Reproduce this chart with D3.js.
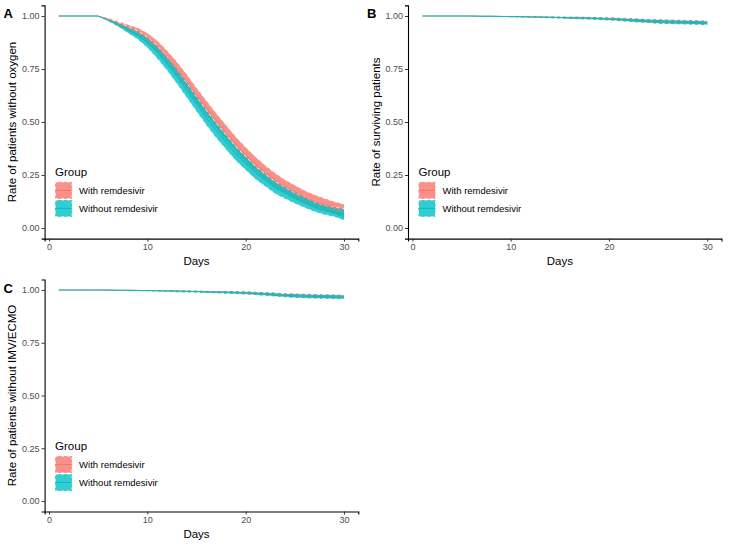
<!DOCTYPE html>
<meta charset="utf-8">
<head>
  <style>
    body { margin:0; background:#fff; }
    text { font-family: "Liberation Sans", Arial, sans-serif; }
  </style>
  <script src="https://d3js.org/d3.v7.min.js"></script>
</head>
<body>
<svg width="729" height="547"></svg>
<script>
var days = d3.range(1, 31)

// panel A - without oxygen
var oxyWithMean = [1,1,1,1,1, 0.985,0.965,0.945,0.925,0.895, 0.855,0.805,0.75,0.69,0.625, 0.565,0.505,0.45,0.395,0.345, 0.30,0.26,0.225,0.195,0.17, 0.145,0.125,0.11,0.095,0.08]
var oxyWithHigh = [1,1,1,1,1, 0.99,0.975,0.96,0.945,0.92, 0.885,0.837,0.784,0.725,0.661, 0.601,0.541,0.486,0.431,0.381, 0.336,0.295,0.259,0.228,0.202, 0.177,0.157,0.14,0.125,0.112]
var oxyWithLow  = [1,1,1,1,1, 0.98,0.955,0.93,0.905,0.87, 0.825,0.773,0.716,0.655,0.589, 0.529,0.469,0.414,0.359,0.309, 0.264,0.225,0.191,0.162,0.138, 0.113,0.093,0.08,0.065,0.05]
var oxyWithoutMean = [1,1,1,1,1, 0.98,0.96,0.935,0.91,0.875, 0.83,0.775,0.715,0.65,0.585, 0.52,0.46,0.405,0.35,0.305, 0.26,0.225,0.19,0.165,0.14, 0.12,0.10,0.085,0.075,0.063]
var oxyWithoutHigh = [1,1,1,1,1, 0.985,0.97,0.95,0.93,0.90, 0.86,0.807,0.749,0.685,0.62, 0.555,0.495,0.44,0.383,0.337, 0.29,0.254,0.218,0.192,0.165, 0.145,0.123,0.107,0.097,0.092]
var oxyWithoutLow  = [1,1,1,1,1, 0.975,0.95,0.92,0.89,0.85, 0.80,0.743,0.681,0.615,0.55, 0.485,0.425,0.37,0.317,0.273, 0.23,0.196,0.162,0.138,0.115, 0.095,0.077,0.063,0.053,0.036]

// panel B - surviving
var survWithMean = [1,1,1,1,1, 1,0.999,0.999,0.998,0.998, 0.997,0.996,0.995,0.994,0.993, 0.992,0.991,0.99,0.989,0.987, 0.985,0.982,0.979,0.977,0.975, 0.973,0.972,0.971,0.97,0.968]
var survWithHigh = [1,1,1,1,1, 1,1,1,1,1, 1,0.999,0.999,0.998,0.998, 0.997,0.996,0.996,0.995,0.994, 0.992,0.99,0.988,0.986,0.985, 0.983,0.982,0.981,0.98,0.978]
var survWithLow  = [1,1,1,1,1, 0.999,0.998,0.997,0.996,0.995, 0.994,0.993,0.991,0.99,0.988, 0.987,0.986,0.984,0.982,0.98, 0.977,0.974,0.97,0.968,0.965, 0.963,0.962,0.961,0.96,0.958]
var survWithoutMean = [1,1,1,1,1, 1,0.999,0.999,0.998,0.997, 0.997,0.996,0.995,0.994,0.993, 0.991,0.99,0.989,0.988,0.986, 0.984,0.981,0.978,0.976,0.974, 0.972,0.971,0.97,0.969,0.967]
var survWithoutHigh = [1,1,1,1,1, 1,1,1,1,1, 1,0.999,0.998,0.998,0.997, 0.996,0.996,0.995,0.994,0.993, 0.991,0.989,0.987,0.985,0.984, 0.982,0.981,0.98,0.979,0.977]
var survWithoutLow  = [1,1,1,1,1, 0.999,0.998,0.997,0.996,0.994, 0.993,0.992,0.99,0.989,0.988, 0.986,0.985,0.983,0.981,0.979, 0.976,0.973,0.969,0.967,0.964, 0.962,0.961,0.96,0.959,0.957]

// panel C - without IMV/ECMO
var imvWithMean = [1,1,1,1,1, 1,0.999,0.999,0.998,0.998, 0.997,0.996,0.995,0.994,0.993, 0.992,0.991,0.99,0.989,0.987, 0.985,0.982,0.979,0.976,0.974, 0.972,0.971,0.97,0.969,0.968]
var imvWithHigh = [1,1,1,1,1, 1,1,1,1,1, 1,0.999,0.999,0.998,0.998, 0.997,0.996,0.996,0.995,0.994, 0.992,0.99,0.988,0.985,0.984, 0.982,0.981,0.98,0.979,0.978]
var imvWithLow  = [1,1,1,1,1, 0.999,0.998,0.997,0.996,0.995, 0.994,0.993,0.991,0.99,0.988, 0.987,0.986,0.984,0.982,0.98, 0.977,0.974,0.97,0.967,0.964, 0.962,0.961,0.96,0.959,0.958]
var imvWithoutMean = [1,1,1,1,1, 1,0.999,0.999,0.998,0.997, 0.997,0.996,0.995,0.994,0.993, 0.991,0.99,0.989,0.988,0.986, 0.984,0.981,0.978,0.975,0.973, 0.971,0.97,0.969,0.968,0.967]
var imvWithoutHigh = [1,1,1,1,1, 1,1,1,1,1, 1,0.999,0.998,0.998,0.997, 0.996,0.996,0.995,0.994,0.993, 0.991,0.989,0.987,0.984,0.983, 0.981,0.98,0.979,0.978,0.977]
var imvWithoutLow  = [1,1,1,1,1, 0.999,0.998,0.997,0.996,0.994, 0.993,0.992,0.99,0.989,0.988, 0.986,0.985,0.983,0.981,0.979, 0.976,0.973,0.969,0.966,0.963, 0.961,0.96,0.959,0.958,0.957]

var groups = ["With remdesivir", "Without remdesivir"]
var groupColors = ["#F8766D", "#00BFC4"]
var xTicks = [0, 10, 20, 30]
var yTicks = [0, 0.25, 0.5, 0.75, 1]

var panels = [
  { tag: "A", ylab: "Rate of patients without oxygen", x0: 44.6, x1: 358.3, y0: 5.4, y1: 238.6, labX: 12,
    series: [[oxyWithMean, oxyWithLow, oxyWithHigh], [oxyWithoutMean, oxyWithoutLow, oxyWithoutHigh]] },
  { tag: "B", ylab: "Rate of surviving patients", x0: 408, x1: 721.5, y0: 5.4, y1: 238.6, labX: 376,
    series: [[survWithMean, survWithLow, survWithHigh], [survWithoutMean, survWithoutLow, survWithoutHigh]] },
  { tag: "C", ylab: "Rate of patients without IMV/ECMO", x0: 44.6, x1: 358.3, y0: 279.5, y1: 511.5, labX: 12,
    series: [[imvWithMean, imvWithLow, imvWithHigh], [imvWithoutMean, imvWithoutLow, imvWithoutHigh]] }
]

var svg = d3.select('svg')

function drawPanel(p) {
  var x = d3.scaleLinear().domain([-0.45, 31.45]).range([p.x0, p.x1])
  var y = d3.scaleLinear().domain([-0.05, 1.05]).range([p.y1, p.y0])
  var g = svg.append("g")

  // ribbons
  p.series.forEach(function (s, i) {
    var rows = days.map(function (d, j) { return { d: d, m: s[0][j], lo: s[1][j], hi: s[2][j] } })
    g.append("path").datum(rows)
      .attr("d", d3.area().x(function (r) { return x(r.d) }).y0(function (r) { return y(r.lo) }).y1(function (r) { return y(r.hi) }))
      .attr("fill", groupColors[i]).attr("fill-opacity", 0.8)
    ;["lo", "hi"].forEach(function (k) {
      g.append("path").datum(rows)
        .attr("d", d3.line().x(function (r) { return x(r.d) }).y(function (r) { return y(r[k]) }))
        .attr("fill", "none").attr("stroke", "#fff").attr("stroke-width", 1)
        .attr("stroke-dasharray", "3,3").attr("stroke-opacity", 0.85)
    })
  })
  // mean lines
  p.series.forEach(function (s, i) {
    g.append("path").datum(days)
      .attr("d", d3.line().x(function (d) { return x(d) }).y(function (d, j) { return y(s[0][j]) }))
      .attr("fill", "none").attr("stroke", groupColors[i]).attr("stroke-width", 1)
  })

  // axes
  var xa = g.append("g").attr("transform", "translate(0," + p.y1 + ")")
    .call(d3.axisBottom(x).tickValues(xTicks).tickSize(3).tickPadding(2).tickFormat(d3.format("d")))
  var ya = g.append("g").attr("transform", "translate(" + p.x0 + ",0)")
    .call(d3.axisLeft(y).tickValues(yTicks).tickSize(3).tickPadding(2).tickFormat(d3.format(".2f")))
  ;[xa, ya].forEach(function (a) {
    a.select(".domain").attr("stroke", "#000").attr("stroke-width", 1.1)
    a.selectAll(".tick line").attr("stroke", "#333")
    a.selectAll(".tick text").attr("fill", "#4D4D4D").style("font-size", "9px")
  })

  g.append("text").attr("x", (x(0) + x(30)) / 2).attr("y", p.y1 + 26)
    .attr("text-anchor", "middle").style("font-size", "11.5px").text("Days")
  g.append("text").attr("transform", "translate(" + (p.labX + 4) + "," + ((p.y0 + p.y1) / 2) + ") rotate(-90)")
    .attr("text-anchor", "middle").style("font-size", "11.5px").text(p.ylab)
  g.append("text").attr("x", p.x0 - 41).attr("y", p.y0 + 13)
    .style("font-size", "13px").style("font-weight", "bold").text(p.tag)

  // legend
  var lx = p.x0 + 10.5, ly = p.y0 + 166.5
  g.append("text").attr("x", lx).attr("y", ly + 4).style("font-size", "11.5px").text("Group")
  groups.forEach(function (name, i) {
    var ky = ly + 10 + i * 18
    g.append("rect").attr("x", lx).attr("y", ky).attr("width", 17).attr("height", 17)
      .attr("fill", groupColors[i]).attr("fill-opacity", 0.8)
      .attr("stroke", "#fff").attr("stroke-dasharray", "3,3").attr("stroke-width", 1)
    g.append("line").attr("x1", lx).attr("x2", lx + 17).attr("y1", ky + 8.5).attr("y2", ky + 8.5)
      .attr("stroke", groupColors[i]).attr("stroke-width", 1)
    g.append("text").attr("x", lx + 24).attr("y", ky + 12).style("font-size", "9.5px").text(name)
  })
}

panels.forEach(drawPanel)
</script>
</body>
